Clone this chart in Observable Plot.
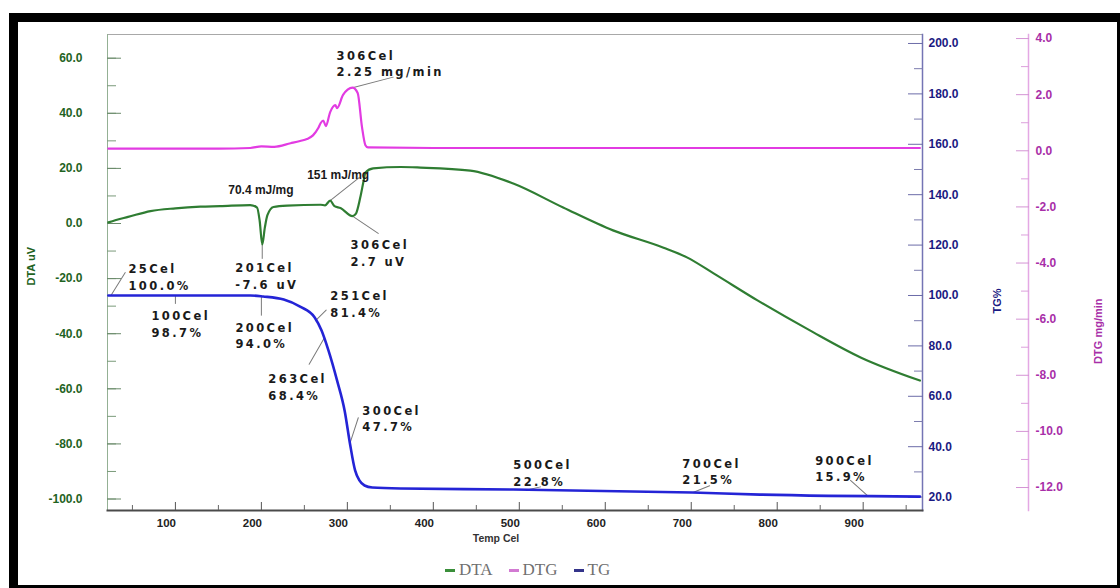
<!DOCTYPE html>
<html>
<head>
<meta charset="utf-8">
<script src="https://cdn.jsdelivr.net/npm/d3@7"></script>
<script src="https://cdn.jsdelivr.net/npm/@observablehq/plot@0.6"></script>
<style>
  html, body { margin: 0; padding: 0; background: #fff; }
  body { width: 1120px; height: 588px; overflow: hidden; position: relative; font-family: "Liberation Sans", Arial, sans-serif; }
  #chart { position: absolute; left: 0; top: 0; }
  #frame { position: absolute; left: 9px; top: 13px; width: 1111px; height: 575px; box-sizing: border-box;
           border-style: solid; border-color: #000; border-width: 9px 3px 3px 9px; pointer-events: none; z-index: 5; }
  #legend { position: absolute; left: 445px; top: 559px; height: 22px; display: flex; align-items: center;
            font-family: "Liberation Serif", "DejaVu Serif", serif; font-size: 17px; color: #707070; }
  #legend .item { display: flex; align-items: center; margin-right: 16px; }
  #legend .sw { display: inline-block; width: 10px; height: 3px; margin-right: 4px; }
  text.ann-mono { letter-spacing: 2.4px; }
</style>
</head>
<body>
<div id="chart"></div>
<div id="frame"></div>
<div id="legend"></div>
<script>
// ---------- data ----------
const dtaTemp  = [22, 30, 45, 71, 100, 129, 152, 187, 195, 198, 201, 204, 207, 214, 230, 269, 274, 280, 285, 292, 306, 310, 315, 319, 321, 330, 362, 385, 443, 493, 551, 609, 667, 695, 726, 777, 838, 897, 966];
const dtaValue = [0.4, 1.2, 2.4, 4.5, 5.5, 6.1, 6.3, 6.7, 5.8, 1.0, -7.6, -1.5, 3.0, 6.0, 6.5, 6.8, 6.6, 8.3, 6.3, 5.6, 2.7, 3.6, 9.4, 15.6, 18.5, 20.0, 20.5, 20.3, 19.2, 14.5, 5.8, -2.5, -8.7, -12.3, -18.1, -27.9, -38.8, -48.6, -57.0];

const dtgTemp  = [22, 150, 187, 200, 215, 234, 245, 253, 260, 266, 269, 272, 275, 280, 286, 288, 295, 306, 312, 317, 321, 324, 400, 600, 800, 966];
const dtgValue = [0.08, 0.08, 0.1, 0.16, 0.14, 0.27, 0.35, 0.42, 0.55, 0.8, 0.99, 1.08, 0.88, 1.38, 1.63, 1.52, 1.99, 2.25, 2.06, 0.85, 0.2, 0.12, 0.1, 0.1, 0.1, 0.1];

const tgTemp  = [22, 100, 187, 202, 226, 245, 262, 270, 278, 288, 297, 303, 309, 314, 320, 329, 362, 493, 701, 780, 966];
const tgValue = [100, 100, 100, 99.6, 98.4, 95.6, 91.3, 86.1, 78.2, 66.3, 54.0, 41.3, 30.6, 26.6, 24.6, 23.8, 23.4, 23.0, 21.8, 21.0, 20.2];

const xTicks   = [100, 200, 300, 400, 500, 600, 700, 800, 900];
const dtaTicks = [-100, -80, -60, -40, -20, 0, 20, 40, 60];
const tgTicks  = [20, 40, 60, 80, 100, 120, 140, 160, 180, 200];
const dtgTicks = [-12, -10, -8, -6, -4, -2, 0, 2, 4];

const seriesNames  = ["DTA", "DTG", "TG"];

const annText   = ["306Cel\n2.25 mg/min", "306Cel\n2.7 uV", "201Cel\n-7.6 uV", "70.4 mJ/mg", "151 mJ/mg",
                   "25Cel\n100.0%", "100Cel\n98.7%", "200Cel\n94.0%", "251Cel\n81.4%", "263Cel\n68.4%",
                   "300Cel\n47.7%", "500Cel\n22.8%", "700Cel\n21.5%", "900Cel\n15.9%"];
const annSeries = ["DTG", "DTA", "DTA", "DTA", "DTA", "TG", "TG", "TG", "TG", "TG", "TG", "TG", "TG", "TG"];
const annTemp   = [306, 306, 201, 201, 280, 25, 100, 200, 263, 273, 303, 510, 702, 906];
const annValue  = [2.25, 2.7, -7.6, -7.6, 8.3, 100, 100, 99.7, 90, 83, 41.3, 22.9, 21.8, 20.3];

// ---------- layout / style ----------
const seriesColors = {DTA: "#2f7d32", DTG: "#e23be2", TG: "#2424d6"};
const legendSwatch = {DTA: "#3a8f3a", DTG: "#d27ad2", TG: "#34348a"};
// secondary axes aligned onto the DTA scale: dta = A + B * value
const TG_A = -117.6, TG_B = 0.9147;
const DTG_A = 26.39, DTG_B = 10.185;
const toDTA = {DTA: v => v, TG: v => TG_A + TG_B * v, DTG: v => DTG_A + DTG_B * v};
const Y_DOMAIN = [-104.17, 68.6];
// per-annotation label offsets (px) and leader line (angle deg, length px)
const annLayout = [
  {dx: -16, dy: -39, rot: 75.5, len: 42, mono: true},
  {dx: -2, dy: 22, rot: 124, len: 31, mono: true},
  {dx: -27, dy: 16.6, rot: 180, len: 14, mono: true},
  {dx: -34, dy: -62.4, rot: 0, len: 0, mono: false},
  {dx: -23, dy: -33.6, rot: 51.6, len: 37, mono: false},
  {dx: 17.5, dy: -33.5, rot: 32, len: 27, mono: true},
  {dx: -24, dy: 13.5, rot: 180, len: 8, mono: true},
  {dx: -26, dy: 24.7, rot: 180, len: 19, mono: true},
  {dx: 14.8, dy: -31.7, rot: 45, len: 15, mono: true},
  {dx: -55.8, dy: 33.7, rot: 210, len: 30, mono: true},
  {dx: 12.4, dy: -39.8, rot: 18, len: 27, mono: true},
  {dx: -14.6, dy: -31.8, rot: 77, len: 13, mono: true},
  {dx: -10.7, dy: -35.8, rot: 68, len: 18, mono: true},
  {dx: -53.2, dy: -42.5, rot: -48, len: 24, mono: true}
];

// ---------- tables ----------
const lines = [
  ...dtaTemp.map((t, i) => ({series: "DTA", t, v: toDTA.DTA(dtaValue[i])})),
  ...dtgTemp.map((t, i) => ({series: "DTG", t, v: toDTA.DTG(dtgValue[i])})),
  ...tgTemp.map((t, i) => ({series: "TG", t, v: toDTA.TG(tgValue[i])}))
];
const anns = annText.map((text, i) => ({text, t: annTemp[i], v: toDTA[annSeries[i]](annValue[i]), ...annLayout[i]}));
const leaders = anns.filter(a => a.len > 0);

const inDomain = v => v >= Y_DOMAIN[0] && v <= Y_DOMAIN[1];
const tgMinor = d3.range(10, 201, 10).filter(d => d % 20 !== 0).map(toDTA.TG).filter(inDomain);
const dtgMinor = d3.range(-13, 5, 2).map(toDTA.DTG).filter(inDomain);
const fromTG = v => ((v - TG_A) / TG_B);
const fromDTG = v => ((v - DTG_A) / DTG_B);
const fmt1 = n => (Math.round(n * 10) / 10).toFixed(1);

const leaderShape = {draw(context, l) { context.moveTo(0, 0); context.lineTo(0, -l); }};

const green = "#1f631f", navy = "#1a1a82", magenta = "#a82ea8";

const chart = Plot.plot({
  width: 1120, height: 556,
  marginLeft: 107, marginRight: 198, marginTop: 34, marginBottom: 46,
  x: {domain: [21, 969]},
  y: {domain: Y_DOMAIN},
  length: {type: "identity"},
  style: {fontFamily: "'Liberation Sans', Arial, sans-serif", background: "transparent", overflow: "visible"},
  marks: [
    Plot.frame({stroke: "#a8a8a8"}),
    Plot.frame({anchor: "left", stroke: "#94b094"}),
    Plot.frame({anchor: "right", stroke: "#7474b4", strokeWidth: 1.5}),
    Plot.frame({anchor: "bottom", stroke: "#4a4a4a", strokeWidth: 2}),
    Plot.frame({anchor: "right", dx: 106, stroke: "#e4a8e4", strokeWidth: 1.5}),

    // x axis
    Plot.axisX({ticks: d3.range(50, 951, 100), tickSize: -5, fill: "none", stroke: "#666", label: null}),
    Plot.axisX({ticks: xTicks, tickSize: -8, fill: "none", stroke: "#555", label: null}),
    Plot.axisX({ticks: xTicks, tickSize: 0, tickPadding: 8, dx: -9, fill: "#222", fontSize: 11.5, fontWeight: "bold", label: null}),

    // DTA (left) axis
    Plot.axisY({anchor: "left", ticks: d3.range(-100, 70, 10), tickSize: -9, fill: "none", stroke: "#7a9a7a", label: null}),
    Plot.axisY({anchor: "left", ticks: dtaTicks, tickSize: -14, fill: "none", stroke: "#6a8a6a", label: null}),
    Plot.axisY({anchor: "left", ticks: dtaTicks, tickSize: 0, tickPadding: 25, tickFormat: fmt1,
                fill: green, fontSize: 12, fontWeight: "bold", label: null}),

    // TG (right) axis
    Plot.axisY({anchor: "right", ticks: tgMinor, tickSize: -9, fill: "none", stroke: "#7c7cae", label: null}),
    Plot.axisY({anchor: "right", ticks: tgTicks.map(toDTA.TG), tickSize: -15, fill: "none", stroke: "#6c6ca8", label: null}),
    Plot.axisY({anchor: "right", ticks: tgTicks.map(toDTA.TG), tickSize: 0, tickPadding: 6,
                tickFormat: v => fmt1(fromTG(v)), fill: navy, fontSize: 12, fontWeight: "bold", label: null}),

    // DTG (far right) axis
    Plot.axisY({anchor: "right", dx: 106, ticks: dtgMinor, tickSize: -8, fill: "none", stroke: "#dca0dc", label: null}),
    Plot.axisY({anchor: "right", dx: 106, ticks: dtgTicks.map(toDTA.DTG), tickSize: -13, fill: "none", stroke: "#d494d4", label: null}),
    Plot.axisY({anchor: "right", dx: 106, ticks: dtgTicks.map(toDTA.DTG), tickSize: 0, tickPadding: 7,
                tickFormat: v => fmt1(fromDTG(v)), fill: magenta, fontSize: 12, fontWeight: "bold", label: null}),

    // axis titles
    Plot.text(["DTA uV"], {frameAnchor: "left", rotate: -90, dx: -76, dy: 13, fill: green, fontSize: 11, fontWeight: "bold"}),
    Plot.text(["TG%"], {frameAnchor: "right", rotate: -90, dx: 75, dy: 16, fill: navy, fontSize: 11, fontWeight: "bold"}),
    Plot.text(["DTG mg/min"], {frameAnchor: "right", rotate: -90, dx: 176, dy: 26, fill: magenta, fontSize: 11, fontWeight: "bold"}),
    Plot.text(["Temp Cel"], {frameAnchor: "bottom", dx: -19, dy: 31, fill: "#333", fontSize: 10.5, fontWeight: "bold"}),

    // leader lines
    Plot.vector(leaders, {x: "t", y: "v", rotate: "rot", length: "len", anchor: "start", shape: leaderShape,
                          stroke: "#7a7a7a", strokeWidth: 1}),

    // curves
    Plot.line(lines, {x: "t", y: "v", z: "series", stroke: d => seriesColors[d.series],
                      strokeWidth: d => d.series === "TG" ? 2.6 : 2.2, curve: "monotone-x"}),

    // annotation labels
    ...anns.map(a => Plot.text([a], {
      x: "t", y: "v", text: "text", dx: a.dx, dy: a.dy,
      textAnchor: "start", lineAnchor: "top", lineHeight: 1.4,
      fontFamily: a.mono ? "'DejaVu Sans', sans-serif" : "'Liberation Sans', Arial, sans-serif",
      fontSize: a.mono ? 11.5 : 12, fontWeight: "bold", fill: "#1a1a1a",
      ariaDescription: a.mono ? "ann-mono" : "ann-sans"
    }))
  ]
});
// apply letter spacing to the spaced annotation labels
d3.select(chart).selectAll('g[aria-description="ann-mono"] text').classed("ann-mono", true);
document.getElementById("chart").appendChild(chart);

// legend
const legend = document.getElementById("legend");
for (const name of seriesNames) {
  const item = document.createElement("span");
  item.className = "item";
  const sw = document.createElement("span");
  sw.className = "sw";
  sw.style.background = legendSwatch[name];
  const label = document.createElement("span");
  label.textContent = name;
  item.appendChild(sw);
  item.appendChild(label);
  legend.appendChild(item);
}
</script>
</body>
</html>
